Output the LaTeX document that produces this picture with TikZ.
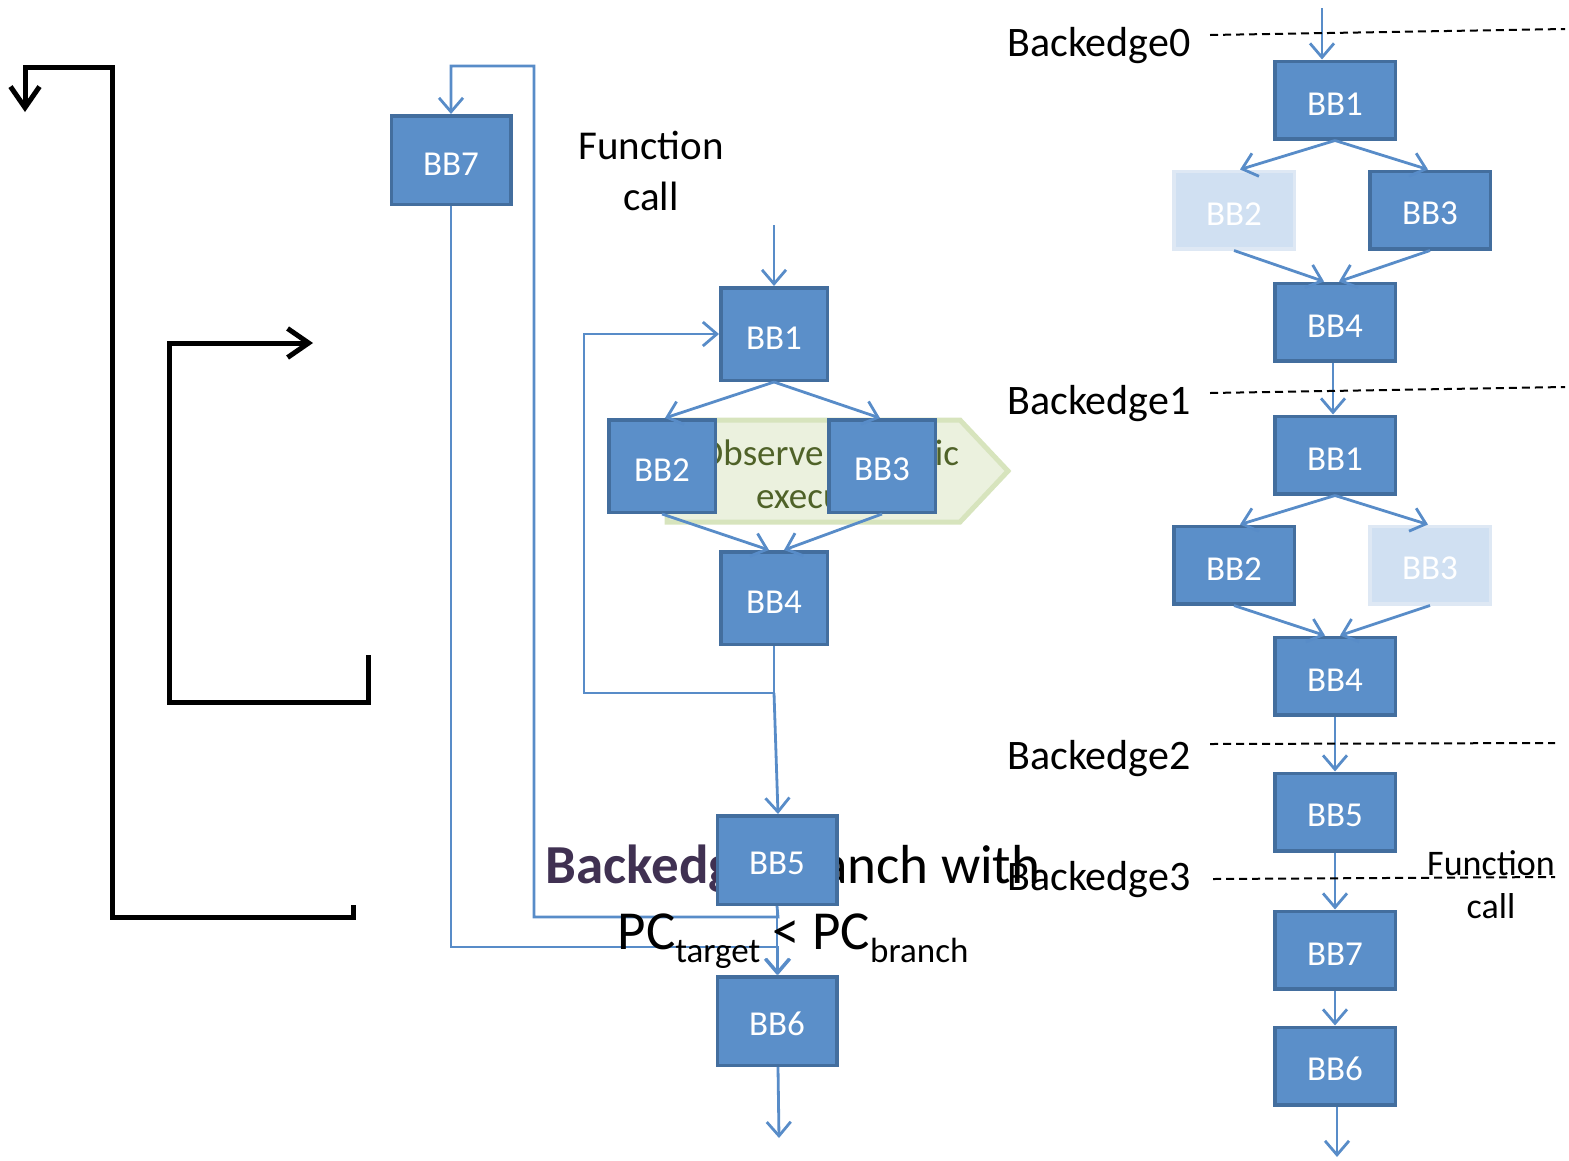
\documentclass[tikz,border=0pt]{standalone}
\usepackage{fontspec}
\setmainfont{Carlito}
\usetikzlibrary{arrows.meta}

\definecolor{boxfill}{RGB}{91,143,201}
\definecolor{boxline}{RGB}{67,110,158}
\definecolor{fadefill}{RGB}{208,224,242}
\definecolor{fadeline}{RGB}{222,232,244}
\definecolor{flowblue}{RGB}{88,140,200}
\definecolor{chevfill}{RGB}{235,241,222}
\definecolor{chevline}{RGB}{215,228,189}
\definecolor{chevtext}{RGB}{79,98,40}
\definecolor{titlepurple}{RGB}{64,49,82}

\tikzset{
  bb/.style={draw=boxline, fill=boxfill, line width=3.5pt, text=white,
             font=\fontsize{35}{40}\selectfont, inner sep=0pt, text height=30pt},
  smallbox/.style={bb, minimum width=106.5pt, minimum height=92.5pt},
  widebox/.style={bb, minimum width=119.5pt, minimum height=88.5pt},
  colbox/.style={bb, minimum width=120.5pt, minimum height=77.5pt},
  fadebox/.style={colbox, draw=fadeline, fill=fadefill},
  flow/.style={draw=flowblue, line width=2.8pt,
               -{Straight Barb[length=14pt,width=24pt]}},
  jump/.style={draw=black, line width=5pt,
               -{Straight Barb[length=21pt,width=29pt]}},
  cut/.style={draw=black, line width=2pt, dash pattern=on 8pt off 5pt},
  edgelabel/.style={font=\fontsize{42}{48}\selectfont, inner sep=0pt},
}

\begin{document}
\begin{tikzpicture}[x=1pt,y=-1pt]
\useasboundingbox (0,0) rectangle (1569,1160);

% ---------- left: jump arrows ----------
\coordinate (ja) at (353,905);
\coordinate (jat) at (25,112);
\draw[jump] (ja) -- (353,917) -- (112,917) -- (112,67) -- (25,67) -- (jat);
\coordinate (jb) at (368,655);
\coordinate (jbt) at (313,343);
\draw[jump] (jb) -- (368,702) -- (169,702) -- (169,343) -- (jbt);

% ---------- middle: dynamic execution band ----------
\filldraw[fill=chevfill, draw=chevline, line width=5pt, line join=miter]
  (667,420) -- (960,420) -- (1008,471) -- (960,522) -- (667,522) -- cycle;
\node[text=chevtext, align=center, font=\fontsize{37}{43}\selectfont, inner sep=0pt]
  (obs) at (829,474) {Observe dynamic\\execution};

% ---------- middle: nodes ----------
\node[smallbox] (m1) at (774,334) {BB1};
\node[smallbox] (m2) at (662,466) {BB2};
\node[smallbox] (m3) at (882,466) {BB3};
\node[smallbox] (m4) at (774,598) {BB4};
\node[widebox]  (m5) at (777,860) {BB5};
\node[widebox]  (m6) at (777,1021) {BB6};
\node[widebox]  (m7) at (451,160) {BB7};

\node[align=center, font=\fontsize{41}{51}\selectfont, inner sep=0pt]
  (fcall) at (651,171) {Function\\call};

% ---------- middle: connectors ----------
\coordinate (min) at (774,225);
\draw[flow] (min) -- (m1.north);
\draw[flow] (m1.south) -- ([xshift=3pt]m2.north);
\draw[flow] (m1.south) -- ([xshift=-2pt]m3.north);
\draw[flow] (m2.south) -- ([xshift=-5pt]m4.north);
\draw[flow] (m3.south) -- ([xshift=10pt]m4.north);
\coordinate (lp) at (774,693);
\draw[flow] (m4.south) -- (lp) -- (584,693) |- (m1.west);
\draw[flow] (lp) -- ([xshift=1pt]m5.north);
\draw[flow] (m5.south) -- (m6.north);
\draw[flow] (m5.south) -- (778,917) -- (534,917) -- (534,66) -| (m7.north);
\draw[flow] (m7.south) |- (778,947) -- ([xshift=1pt]m6.north);
\coordinate (mout) at (779,1138);
\draw[flow] ([xshift=1pt]m6.south) -- (mout);

% ---------- middle: caption (under BB5) ----------
\node[align=center, font=\fontsize{55}{66}\selectfont, inner sep=0pt]
  (cap) at (793,907)
  {{\bfseries\color{titlepurple}Backedge} branch with\\
   PC\raisebox{-13pt}{\fontsize{35}{35}\selectfont target} < PC\raisebox{-13pt}{\fontsize{35}{35}\selectfont branch}};
\node[widebox] at (m5) {BB5};

% ---------- right: unrolled trace ----------
\node[colbox]  (r1)  at (1335,100) {BB1};
\node[fadebox] (r2)  at (1234,210) {BB2};
\node[colbox]  (r3)  at (1430,210) {BB3};
\node[colbox]  (r4)  at (1335,322) {BB4};
\node[colbox]  (r5)  at (1335,455) {BB1};
\node[colbox]  (r6)  at (1234,565) {BB2};
\node[fadebox] (r7)  at (1430,565) {BB3};
\node[colbox]  (r8)  at (1335,676) {BB4};
\node[colbox]  (r9)  at (1335,812) {BB5};
\node[colbox]  (r10) at (1335,950) {BB7};
\node[colbox]  (r11) at (1335,1066) {BB6};

\coordinate (rin) at (1322,8);
\draw[flow] (rin) -- (rin |- r1.north);
\draw[flow] (r1.south) -- ([xshift=6pt]r2.north);
\draw[flow] (r1.south) -- ([xshift=-2pt]r3.north);
\draw[flow] (r2.south) -- ([xshift=-11pt]r4.north);
\draw[flow] (r3.south) -- ([xshift=4pt]r4.north);
\draw[flow] ([xshift=-2pt]r4.south) -- ([xshift=-2pt]r5.north);
\draw[flow] (r5.south) -- ([xshift=6pt]r6.north);
\draw[flow] (r5.south) -- ([xshift=-2pt]r7.north);
\draw[flow] (r6.south) -- ([xshift=-10pt]r8.north);
\draw[flow] (r7.south) -- ([xshift=5pt]r8.north);
\draw[flow] (r8.south) -- (r9.north);
\draw[flow] (r9.south) -- (r10.north);
\draw[flow] (r10.south) -- (r11.north);
\coordinate (rout) at (1337,1157);
\draw[flow] ([xshift=2pt]r11.south) -- (rout);

% ---------- right: back-edge cuts ----------
\draw[cut] (1210,35) -- (1565,29);
\draw[cut] (1210,393) -- (1565,387);
\draw[cut] (1210,744) -- (1555,743);
\draw[cut] (1213,879) -- (1555,877);
\node[edgelabel] (e0) at (1099,46) {Backedge0};
\node[edgelabel] (e1) at (1099,404) {Backedge1};
\node[edgelabel] (e2) at (1099,759) {Backedge2};
\node[edgelabel] (e3) at (1099,880) {Backedge3};
\node[align=center, font=\fontsize{36}{43}\selectfont, inner sep=0pt]
  (rcall) at (1491,885) {Function\\call};
\end{tikzpicture}
\end{document}
